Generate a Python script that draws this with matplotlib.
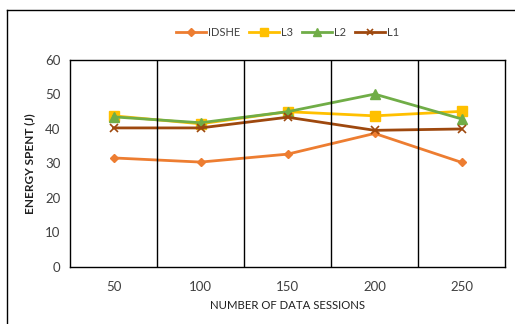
import matplotlib.pyplot as plt
from matplotlib.lines import Line2D

sessions = ['50', '100', '150', '200', '250']
idshe = [31.6, 30.4, 32.7, 38.7, 30.3]
l3 = [43.8, 41.5, 45.0, 43.8, 45.1]
l2 = [43.5, 41.8, 45.0, 50.1, 42.9]
l1 = [40.3, 40.3, 43.4, 39.6, 40.0]

plt.rcParams['font.family'] = ['Lato', 'DejaVu Sans']

fig = plt.figure(figsize=(5.15, 3.24), dpi=100)
ax = fig.add_axes([0.136, 0.176, 0.845, 0.639])

x = range(len(sessions))
ax.plot(x, idshe, color='#ED7D31', marker='D', markersize=4.5, linewidth=2, label='IDSHE')
ax.plot(x, l3, color='#FFC000', marker='s', markersize=6.5, linewidth=2, label='L3')
ax.plot(x, l2, color='#70AD47', marker='^', markersize=6.5, linewidth=2, label='L2')
ax.plot(x, l1, color='#9E480E', marker='x', markersize=6, markeredgewidth=1.2, linewidth=2, label='L1')

# vertical separators between categories
for b in range(len(sessions) - 1):
    ax.axvline(b + 0.5, color='black', linewidth=1)

ax.set_xlim(-0.5, len(sessions) - 0.5)
ax.set_ylim(0, 60)
ax.set_yticks(range(0, 61, 10))
ax.set_xticks(list(x))
ax.set_xticklabels(sessions)
ax.tick_params(axis='both', length=0, labelsize=9.5, colors='#404040', pad=7)
ax.tick_params(axis='x', pad=10)
for s in ax.spines.values():
    s.set_color('black')
    s.set_linewidth(1)

ax.set_xlabel('NUMBER OF DATA SESSIONS', fontsize=8.2, color='#202020', labelpad=5)
ax.set_ylabel('ENERGY SPENT (J)', fontsize=8.5, color='#202020', fontweight='bold', labelpad=7)

ax.legend(loc='lower center', bbox_to_anchor=(0.5, 1.06), ncol=4, frameon=False,
          fontsize=8, handlelength=2.7, columnspacing=0.8, handletextpad=0.2,
          markerscale=0.8, labelcolor='#404040')

# outer chart border
fig.add_artist(Line2D([7 / 515, 7 / 515], [0, 1 - 10 / 324], color='black', linewidth=1))
fig.add_artist(Line2D([7 / 515, 1], [1 - 10 / 324, 1 - 10 / 324], color='black', linewidth=1))

fig.savefig('out.png', dpi=100)
